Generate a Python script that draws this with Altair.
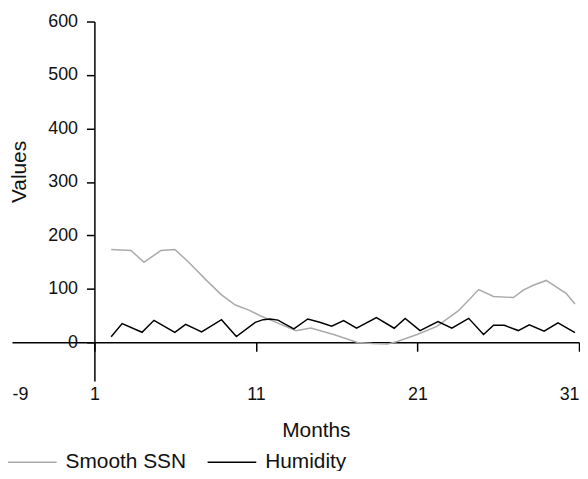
import altair as alt
import pandas as pd

# Smooth SSN series (grey)
ssn_month = [2.04, 3.27, 4.07, 5.12, 5.98, 6.84, 7.88, 8.87, 9.73, 10.53, 11.26, 12.06,
             13.48, 14.40, 15.81, 17.29, 18.21, 19.13, 19.75, 20.98, 22.20, 23.56, 24.79,
             25.71, 26.94, 27.55, 28.17, 28.97, 30.20, 30.75]
ssn_value = [174, 172, 150, 172, 174, 150, 118, 89, 70, 61, 50, 40,
             22, 27, 15, 0, -2, -3, 2, 15, 30, 60, 99,
             86, 84, 98, 107, 116, 92, 72]

# Humidity series (black)
hum_month = [2.04, 2.72, 3.95, 4.69, 5.98, 6.65, 7.64, 8.87, 9.79, 10.96, 11.45, 11.88,
             12.37, 12.86, 13.35, 14.21, 14.95, 15.69, 16.43, 17.23, 18.46, 19.56, 20.24,
             21.16, 22.27, 23.13, 24.17, 25.09, 25.71, 26.38, 27.24, 27.92, 28.84, 29.70, 30.75]
hum_value = [10.6, 35.3, 19.1, 41.4, 19.1, 34.0, 19.9, 42.7, 11.1, 37.7, 42.7, 44.0,
             41.8, 33.4, 25.4, 44.0, 37.7, 30.3, 40.9, 26.6, 46.4, 26.6, 45.1,
             22.3, 39.0, 26.6, 45.1, 14.9, 32.1, 32.1, 22.3, 32.9, 21.0, 36.6, 18.6]

series_names = ["Smooth SSN", "Humidity"]
series_colors = ["#aaaaaa", "#000000"]

x_ticks = [-4.1, 1, 11, 21, 31]
y_ticks = [0, 100, 200, 300, 400, 500, 600]

df = pd.concat([
    pd.DataFrame({"Months": ssn_month, "Values": ssn_value, "Series": "Smooth SSN"}),
    pd.DataFrame({"Months": hum_month, "Values": hum_value, "Series": "Humidity"}),
], ignore_index=True)

FONT = "Liberation Sans"

x_enc = alt.X(
    "Months:Q",
    scale=alt.Scale(domain=[-4.1, 31], nice=False, zero=False),
    axis=alt.Axis(
        values=x_ticks,
        labelExpr="datum.value < 0 ? '-9' : toString(datum.value)",
        labelFlush=True,
        offset=-39,
        grid=False,
        tickSize=9,
        tickWidth=1.5,
        tickColor="#000000",
        tickOpacity={"condition": {"test": "datum.value < 0", "value": 0}, "value": 1},
        domainColor="#000000",
        domainWidth=1.5,
        labelFont=FONT,
        labelFontSize=18,
        labelColor="#111111",
        labelPadding=35,
        title="Months",
        titleFont=FONT,
        titleFontSize=21,
        titleFontWeight="normal",
        titleColor="#111111",
        titleX=306,
        titleY=89,
        titleBaseline="middle",
        titleAlign="center",
    ),
)

y_enc = alt.Y(
    "Values:Q",
    scale=alt.Scale(domain=[-72, 600], nice=False, zero=False),
    axis=alt.Axis(
        values=y_ticks,
        offset=-83,
        grid=False,
        tickSize=8,
        tickWidth=1.5,
        tickColor="#000000",
        domainColor="#000000",
        domainWidth=1.5,
        labelFont=FONT,
        labelFontSize=18,
        labelColor="#111111",
        labelPadding=9,
        title="Values",
        titleFont=FONT,
        titleFontSize=21,
        titleFontWeight="normal",
        titleColor="#111111",
        titleX=-75,
        titleY=151,
        titleBaseline="middle",
        titleAlign="center",
    ),
)

color_enc = alt.Color(
    "Series:N",
    scale=alt.Scale(domain=series_names, range=series_colors),
    legend=alt.Legend(
        title=None,
        orient="none",
        legendX=-5,
        legendY=418,
        direction="horizontal",
        symbolType="stroke",
        symbolSize=2400,
        symbolStrokeWidth=1.5,
        labelFont=FONT,
        labelFontSize=21,
        labelColor="#111111",
        labelOffset=8,
        columnPadding=18,
        padding=0,
    ),
)

chart = (
    alt.Chart(df)
    .mark_line(strokeWidth=1.5)
    .encode(x=x_enc, y=y_enc, color=color_enc)
    .properties(
        width=571,
        height=362,
        autosize="none",
        padding={"left": 4, "top": 12, "right": 1, "bottom": 89},
        background="white",
    )
    .configure_view(stroke=None)
)

chart.save("out.html", embed_options={"renderer": "svg", "actions": False})
